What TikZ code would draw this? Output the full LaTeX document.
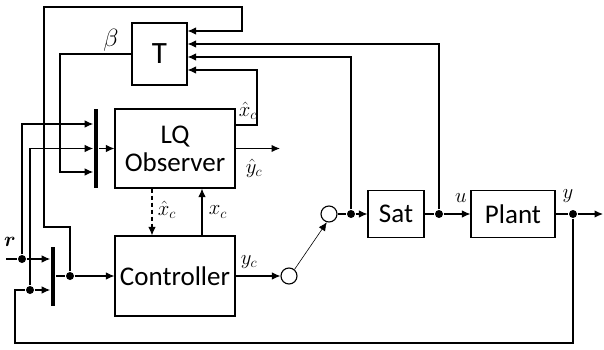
\documentclass[tikz,border=0pt]{standalone}
\usepackage{fontspec}
\setmainfont{Carlito}
\usepackage{amsmath}
\usetikzlibrary{
    arrows.meta,
    positioning
}

\begin{document}
\begin{tikzpicture}[
x=1pt, y=-1pt,
line width=1.1pt,
box/.style={
draw,
inner sep=0pt,
align=center,
font=\fontsize{27}{28}\selectfont
},
bar/.style={
fill=black,
inner sep=0pt,
minimum width=4.5pt
},
dot/.style={
circle,
fill=black,
inner sep=0pt,
minimum size=8pt
},
sw/.style={
circle,
draw,
inner sep=0pt,
minimum size=16pt
},
lab/.style={
inner sep=1pt,
font=\fontsize{22}{24}\selectfont
},
sig/.style={
-{Latex[length=8.5pt,width=7.5pt]}
}
]

\useasboundingbox (0,0) rectangle (604,350);

\node[box, minimum width=55pt, minimum height=62pt] (T) at (159.5,54)
{\fontsize{31}{33}\selectfont T};

\node[box, minimum width=120pt, minimum height=79pt] (obs) at (175,148.5)
{LQ\\Observer};

\node[box, minimum width=120pt, minimum height=80pt] (ctrl) at (175,276)
{Controller};

\node[box, minimum width=56pt, minimum height=47pt] (sat) at (396,214)
{Sat};

\node[box, minimum width=84pt, minimum height=47pt] (plant) at (513,214)
{Plant};

\node[bar, minimum height=79pt] (mux1) at (96,148.5) {};
\node[bar, minimum height=59pt] (mux2) at (53,276.5) {};

\node[sw] (sw1) at (289,276) {};
\node[sw] (sw2) at (329,214) {};

\node[dot] (rdot) at (22,259) {};
\node[dot] (ydot2) at (30,290) {};
\node[dot] (cdot) at (70,276) {};
\node[dot] (sdot) at (351,214) {};
\node[dot] (udot) at (439,214) {};
\node[dot] (ydot) at (573,214) {};

\coordinate (rin) at (6,259);
\coordinate (yout) at (603,214);
\coordinate (yhat) at (280,148.5);
\coordinate (fb) at (15,343);
\coordinate (bcorner) at (60,54);
\coordinate (lp1) at (44,227);
\coordinate (lp2) at (242,7);
\coordinate (xhc) at (257,70);

% reference and feedback into the muxes
\draw (rin) -- (rdot);
\draw[sig] (rdot) -- (rdot -| mux2.west);
\draw[sig] (rdot) |- ([yshift=24.5pt]mux1.west);
\draw (ydot) |- (fb) |- (ydot2);
\draw[sig] (ydot2) -- (ydot2 -| mux2.west);
\draw[sig] (ydot2) |- (mux1.west);
\draw[sig] (T.west) -- (bcorner) |- ([yshift=-23.5pt]mux1.west);

\draw[sig] (mux1.east) -- (obs.west);
\draw (cdot -| mux2.east) -- (cdot);
\draw[sig] (cdot) -- (ctrl);
\draw[sig] (cdot) |- (lp1) |- (lp2) |- ([yshift=23pt]T.east);

% observer and controller
\draw[sig] ([yshift=23.5pt]obs.east) -| (xhc) -- (xhc -| T.east);
\draw[sig] (obs.east) -- (yhat);
\draw[sig, dash pattern=on 4pt off 3pt] ([xshift=-23pt]obs.south) -- ([xshift=-23pt]ctrl.north);
\draw[sig] ([xshift=27pt]ctrl.north) -- ([xshift=27pt]obs.south);
\draw[sig] (ctrl) -- (sw1);
\draw[sig, line width=0.6pt] (sw1.50) -- (sw2.255);

% loop
\draw (sw2) -- (sdot);
\draw[sig] (sdot) -- (sat);
\draw[sig] (sdot) |- ([yshift=-3pt]T.east);
\draw (sat) -- (udot);
\draw[sig] (udot) -- (plant);
\draw[sig] (udot) |- ([yshift=10pt]T.east);
\draw (plant) -- (ydot);
\draw[sig] (ydot) -- (yout);

% labels
\node[lab] (rlab) at (10,242) {$\boldsymbol{r}$};
\node[lab, font=\fontsize{25}{27}\selectfont] (blab) at (111,40) {$\beta$};
\node[lab] (xhlab) at (248,111) {$\hat{x}_c$};
\node[lab] (yhlab) at (254,168) {$\hat{y}_c$};
\node[lab] (xhlab2) at (167,210) {$\hat{x}_c$};
\node[lab] (xlab) at (218,212) {$x_c$};
\node[lab] (yclab) at (249,262) {$y_c$};
\node[lab] (ulab) at (461,198) {$u$};
\node[lab] (ylab) at (568,196) {$y$};

\end{tikzpicture}
\end{document}
